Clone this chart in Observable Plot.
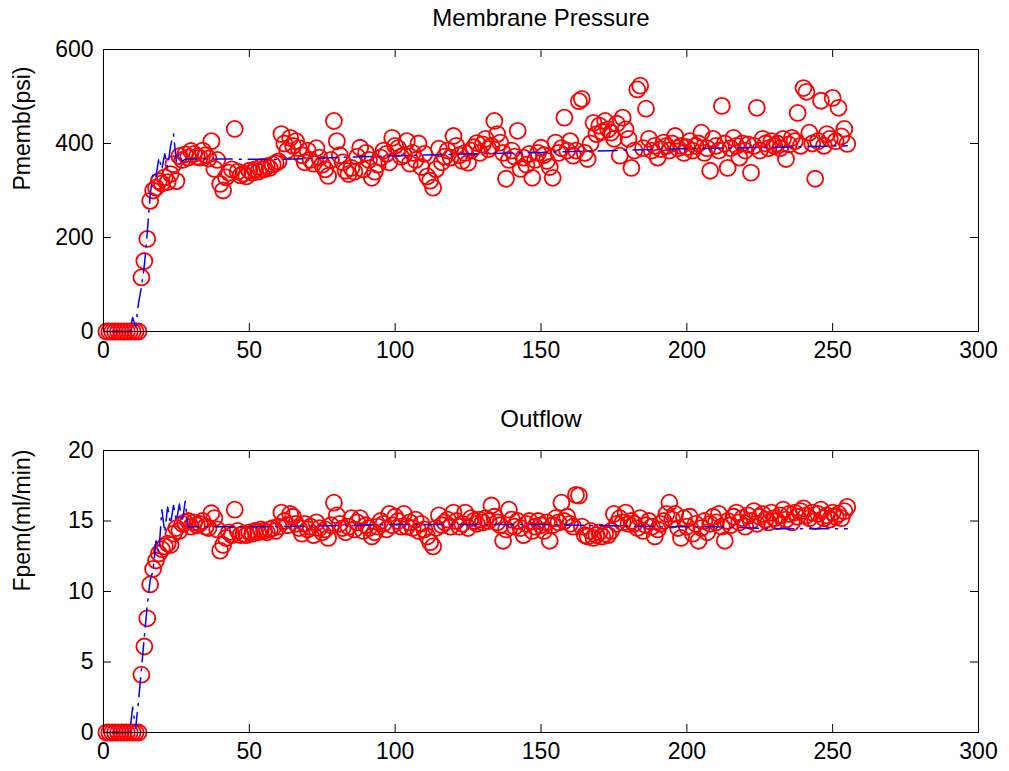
<!DOCTYPE html>
<html><head><meta charset="utf-8">
<script src="https://cdn.jsdelivr.net/npm/d3@7"></script>
<script src="https://cdn.jsdelivr.net/npm/@observablehq/plot@0.6"></script>
<style>
body{margin:0;background:#fff;}
#fig{position:relative;width:1009px;height:771px;background:#fff;overflow:hidden;}
#fig > svg{position:absolute;left:0;}
</style></head><body><div id="fig"></div>
<script>
// Membrane pressure (psi), one reading per sample 1..255
const pressure = [
  0,0,0,0,0,0,0,0,0,0,
  0,0,115,150,197,278,300,306,320,315,
  328,318,335,356,320,373,365,377,370,384,
  378,372,370,385,375,368,405,346,365,314,
  300,328,338,345,431,340,332,336,330,342,
  338,345,340,350,345,352,348,355,358,362,
  420,400,385,412,395,405,390,375,360,385,
  365,357,390,370,355,345,331,365,448,405,
  375,360,342,335,348,340,372,391,345,380,
  365,327,340,355,370,385,378,360,412,395,
  390,372,375,405,357,380,365,400,350,378,
  330,321,306,345,389,360,372,385,370,416,
  395,375,363,380,359,385,392,401,380,398,
  410,388,395,448,420,402,380,325,365,385,
  372,427,346,370,355,378,327,365,380,391,
  375,363,350,327,402,380,390,455,385,405,
  374,385,490,495,380,367,400,444,420,438,
  425,448,430,423,410,442,374,455,430,410,
  348,385,515,523,390,474,410,385,395,370,
  388,402,395,385,400,416,390,395,380,392,
  405,385,395,400,423,380,390,342,410,395,
  385,480,400,348,390,412,395,370,400,385,
  398,338,395,476,385,410,400,390,405,395,
  400,390,410,367,398,412,405,465,395,518,
  510,423,400,325,405,491,395,420,410,497,
  405,476,415,431,399
];
// Permeate flow (ml/min), same samples
const flow = [
  0,0,0,0,0,0,0,0,0,0,
  0,0,4.1,6.1,8.1,10.5,11.6,12.2,12.7,13.0,
  13.2,13.4,13.3,14.1,14.5,14.3,14.8,14.9,15.0,14.6,
  14.9,14.7,14.8,15.0,14.6,14.5,15.55,15.2,14.4,12.9,
  13.3,13.8,14.2,14.0,15.8,14.3,14.0,14.1,14.0,14.2,
  14.1,14.3,14.2,14.4,14.3,14.2,14.4,14.5,14.3,14.6,
  15.6,15.0,14.7,15.5,15.3,14.8,14.5,14.1,14.8,14.4,
  14.6,14.0,14.9,14.5,14.2,14.4,13.8,14.7,16.3,15.4,
  14.8,14.5,14.2,14.6,15.2,14.4,14.9,15.2,14.3,14.7,
  14.5,13.9,14.2,14.6,15.0,14.8,14.4,15.5,14.7,15.3,
  15.0,14.6,15.5,14.6,14.9,14.5,15.1,14.3,14.8,14.4,
  13.9,13.5,13.2,14.5,15.4,14.7,14.9,15.1,14.6,15.6,
  15.0,14.6,14.8,15.6,14.5,15.2,15.0,14.8,15.1,14.9,
  15.2,15.0,16.1,15.3,14.9,14.7,13.6,14.4,15.8,15.1,
  14.6,15.0,14.5,14.0,14.8,15.0,14.3,14.6,15.0,14.7,
  14.3,14.9,13.6,14.7,15.2,14.9,16.3,15.0,15.3,14.8,
  14.6,16.85,16.8,14.6,14.0,13.9,14.3,13.8,14.0,14.2,
  13.9,14.1,14.0,14.3,15.5,14.8,15.2,14.9,15.6,14.8,
  15.0,14.8,14.5,15.2,14.3,14.7,15.0,14.6,13.9,14.4,
  14.8,15.0,15.5,16.3,15.1,15.5,14.5,13.8,15.2,14.6,
  15.3,14.1,14.8,13.6,14.5,15.0,14.2,14.8,15.3,14.9,
  15.5,14.6,13.6,15.0,14.7,15.3,15.6,14.9,15.2,14.6,
  15.4,15.0,15.7,14.8,15.3,15.5,15.1,14.9,15.6,15.2,
  15.0,15.4,15.8,15.1,15.5,14.9,15.6,15.3,15.7,15.9,
  15.4,15.2,15.6,15.0,15.5,15.8,15.2,15.4,15.1,15.6,
  15.3,15.5,15.2,15.7,16.0
];
// Model curves (blue dash-dot)
const modelPressureTime = [0,9,10,11,12,13,14,15,16,17,18,19,20,21,22,23,24,25,26,27,28,40,60,80,100,120,150,180,200,230,255];
const modelPressure = [0,0,30,10,60,95,140,210,290,340,330,370,345,378,350,395,420,360,380,362,367,367,366,370,374,377,381,386,389,392,395];
const modelFlowTime = [0,9,10,11,12,13,14,15,16,17,18,19,20,21,22,23,24,25,26,27,28,29,30,60,100,150,190,210,230,255];
const modelFlow = [0,0,1.8,0.3,2.2,4.5,6.8,9,10.8,11.5,13.6,12.8,15.8,14.2,16.0,14.8,16.1,15.0,16.2,14.9,16.4,14.6,14.6,14.6,14.75,14.75,14.6,14.6,14.45,14.45];

const xTicks = [0,50,100,150,200,250,300];
const pressureTicks = [0,200,400,600];
const flowTicks = [0,5,10,15,20];
const titles = ["Membrane Pressure","Outflow"];
const yLabels = ["Pmemb(psi)","Fpem(ml/min)"];

const W = 1009, ML = 103, MR = 31, TICK = 8;
const FONT = "'Liberation Sans', Arial, Helvetica, sans-serif";

function panel({values, mx, my, yDomain, yTicks, title, ylabel, height, marginTop, marginBottom}) {
  const samples = values.map((v, i) => ({t: i + 1, v}));
  const model = mx.map((t, i) => ({t, v: my[i]}));
  const innerW = W - ML - MR, innerH = height - marginTop - marginBottom;
  return Plot.plot({
    width: W, height, marginTop, marginBottom, marginLeft: ML, marginRight: MR,
    style: {fontFamily: FONT, fontSize: "23px", color: "#000", background: "transparent", overflow: "visible"},
    x: {domain: [0, 300]},
    y: {domain: yDomain},
    marks: [
      Plot.dot(samples, {x: "t", y: "v", r: 8, stroke: "#ff0000", strokeWidth: 1.8, fill: "none"}),
      Plot.line(model, {x: "t", y: "v", stroke: "#0000ff", strokeWidth: 1.5, strokeDasharray: "19,7,2,7"}),
      Plot.frame({stroke: "#000", strokeWidth: 1}),
      Plot.tickX(xTicks, {x: d => d, insetTop: innerH - TICK, stroke: "#000"}),
      Plot.tickX(xTicks, {x: d => d, insetBottom: innerH - TICK, stroke: "#000"}),
      Plot.tickY(yTicks, {y: d => d, insetRight: innerW - TICK, stroke: "#000"}),
      Plot.tickY(yTicks, {y: d => d, insetLeft: innerW - TICK, stroke: "#000"}),
      Plot.axisX({ticks: xTicks, tickSize: 0, tickPadding: 10, label: null, tickFormat: d => String(d), fontSize: 23}),
      Plot.axisY({ticks: yTicks, tickSize: 0, tickPadding: 10, label: null, tickFormat: d => String(d), fontSize: 23}),
      Plot.text([title], {text: d => d, frameAnchor: "top", dy: -31, lineAnchor: "middle", fontSize: 24, fill: "#000"}),
      Plot.text([ylabel], {text: d => d, frameAnchor: "left", dx: -81, rotate: -90, fontSize: 23, fill: "#000"})
    ]
  });
}

const fig = document.getElementById("fig");
const topPanel = panel({values: pressure, mx: modelPressureTime, my: modelPressure, yDomain: [0, 600], yTicks: pressureTicks,
  title: titles[0], ylabel: yLabels[0], height: 390, marginTop: 49, marginBottom: 59});
topPanel.style.top = "0px";
const bottomPanel = panel({values: flow, mx: modelFlowTime, my: modelFlow, yDomain: [0, 20], yTicks: flowTicks,
  title: titles[1], ylabel: yLabels[1], height: 381, marginTop: 60, marginBottom: 39});
bottomPanel.style.top = "390px";
fig.appendChild(topPanel);
fig.appendChild(bottomPanel);
</script></body></html>
